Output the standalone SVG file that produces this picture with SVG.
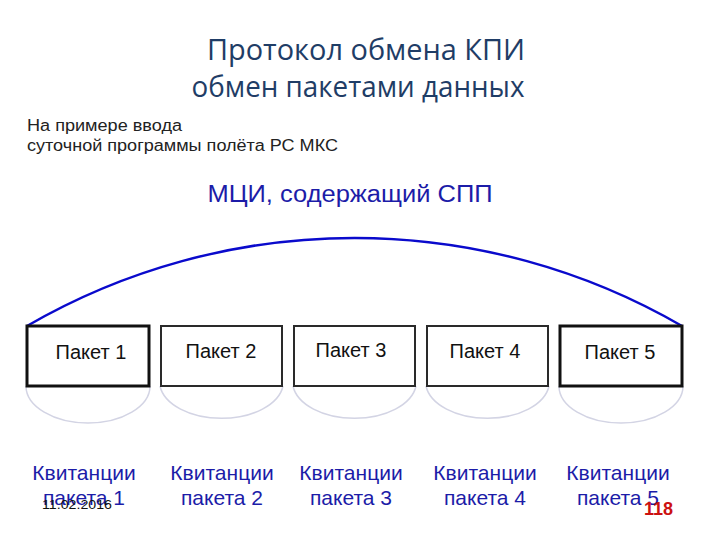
<svg xmlns="http://www.w3.org/2000/svg" width="720" height="540" viewBox="0 0 720 540">
<style>
.title{font-family:"Open Sans","Noto Sans",sans-serif;font-size:29px;fill:#1f3d66;text-anchor:middle}
.sub{font-family:"Liberation Sans",Arial,sans-serif;font-size:16px;fill:#222}
.head{font-family:"Liberation Sans",Arial,sans-serif;font-size:23px;fill:#1c1ca8;text-anchor:middle}
.box{fill:#fff;stroke:#2a2a2a;stroke-width:2}
.boxb{fill:#fff;stroke:#111;stroke-width:3}
.lbl{font-family:"Liberation Sans",Arial,sans-serif;font-size:20px;fill:#111;text-anchor:middle}
.kv{font-family:"Liberation Sans",Arial,sans-serif;font-size:21px;fill:#1c1ca8;text-anchor:middle}
.cup{fill:none;stroke:#d3d4e4;stroke-width:1.5}
.big{fill:none;stroke:#0a0acc;stroke-width:2.5}
</style>
<rect width="720" height="540" fill="#fff"/>
<text class="title" x="366" y="60" textLength="318" lengthAdjust="spacingAndGlyphs">Протокол обмена КПИ</text>
<text class="title" x="358" y="97" textLength="333" lengthAdjust="spacingAndGlyphs">обмен пакетами данных</text>
<text class="sub" x="27" y="131" textLength="155" lengthAdjust="spacingAndGlyphs">На примере ввода</text>
<text class="sub" x="27" y="151" textLength="311" lengthAdjust="spacingAndGlyphs">суточной программы полёта РС МКС</text>
<text class="head" x="350" y="202" textLength="285" lengthAdjust="spacingAndGlyphs">МЦИ, содержащий СПП</text>
<g id="connectors">
<path class="big" d="M27,326 A653,653 0 0 1 682,326"/>
<path class="cup" d="M26,386 A62,37 0 0 0 150,386"/>
<path class="cup" d="M160,386 A62,37 0 0 0 283,386"/>
<path class="cup" d="M293,386 A62,37 0 0 0 416,386"/>
<path class="cup" d="M426,386 A62,37 0 0 0 549,386"/>
<path class="cup" d="M559,386 A62,37 0 0 0 683,386"/>
</g>
<g id="p1"><rect class="boxb" x="27" y="326" width="122" height="60"/><text class="lbl" x="91" y="359">Пакет 1</text></g>
<g id="p2"><rect class="box" x="161" y="326" width="121" height="60"/><text class="lbl" x="221" y="358">Пакет 2</text></g>
<g id="p3"><rect class="box" x="294" y="326" width="121" height="60"/><text class="lbl" x="351" y="357">Пакет 3</text></g>
<g id="p4"><rect class="box" x="427" y="326" width="121" height="60"/><text class="lbl" x="485" y="358">Пакет 4</text></g>
<g id="p5"><rect class="boxb" x="560" y="326" width="122" height="60"/><text class="lbl" x="620" y="359">Пакет 5</text></g>
<g id="k1"><text class="kv" x="84" y="480">Квитанции</text><text class="kv" x="84" y="505">пакета 1</text></g>
<g id="k2"><text class="kv" x="222" y="480">Квитанции</text><text class="kv" x="222" y="505">пакета 2</text></g>
<g id="k3"><text class="kv" x="351" y="480">Квитанции</text><text class="kv" x="351" y="505">пакета 3</text></g>
<g id="k4"><text class="kv" x="485" y="480">Квитанции</text><text class="kv" x="485" y="505">пакета 4</text></g>
<g id="k5"><text class="kv" x="618" y="480">Квитанции</text><text class="kv" x="618" y="505">пакета 5</text></g>
<text x="42" y="509" font-family="Liberation Sans, Arial, sans-serif" font-size="13" fill="#111" textLength="70" lengthAdjust="spacingAndGlyphs">11.02.2016</text>
<text x="644" y="515" font-family="Liberation Sans, Arial, sans-serif" font-size="18" font-weight="bold" fill="#cc1111">118</text>
</svg>
